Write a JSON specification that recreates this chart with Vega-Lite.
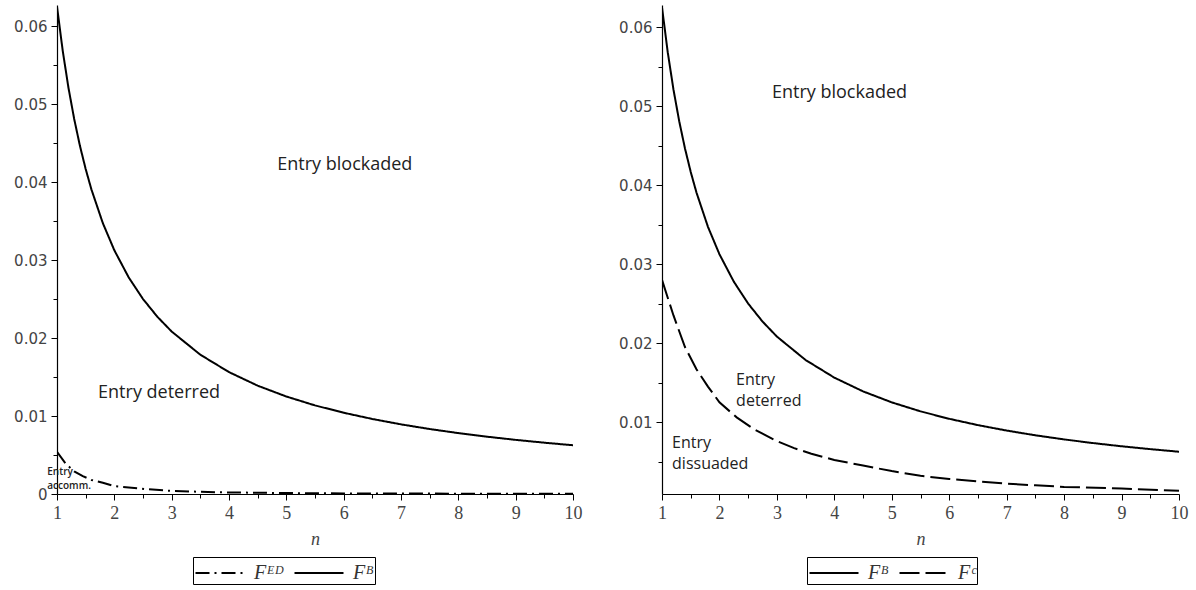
{
  "$schema": "https://vega.github.io/schema/vega-lite/v6.json",
  "background": "white",
  "padding": {"left": 5, "top": 5, "right": 5, "bottom": 0},
  "spacing": 28,
  "resolve": {"scale": {"strokeDash": "independent"}, "legend": {"strokeDash": "independent"}},
  "config": {
    "view": {"stroke": null},
    "axis": {"grid": false, "domainColor": "#000", "domainWidth": 1.2, "tickColor": "#000", "labelColor": "#444"},
    "text": {"font": "Open Sans", "color": "#222"}
  },
  "datasets": {
    "left": [
      {"n": 1, "value": 0.0625, "series": "Fᴮ"},
      {"n": 1.1, "value": 0.05682, "series": "Fᴮ"},
      {"n": 1.2, "value": 0.05208, "series": "Fᴮ"},
      {"n": 1.3, "value": 0.04808, "series": "Fᴮ"},
      {"n": 1.4, "value": 0.04464, "series": "Fᴮ"},
      {"n": 1.5, "value": 0.04167, "series": "Fᴮ"},
      {"n": 1.6, "value": 0.03906, "series": "Fᴮ"},
      {"n": 1.8, "value": 0.03472, "series": "Fᴮ"},
      {"n": 2, "value": 0.03125, "series": "Fᴮ"},
      {"n": 2.25, "value": 0.02778, "series": "Fᴮ"},
      {"n": 2.5, "value": 0.025, "series": "Fᴮ"},
      {"n": 2.75, "value": 0.02273, "series": "Fᴮ"},
      {"n": 3, "value": 0.02083, "series": "Fᴮ"},
      {"n": 3.5, "value": 0.01786, "series": "Fᴮ"},
      {"n": 4, "value": 0.01563, "series": "Fᴮ"},
      {"n": 4.5, "value": 0.01389, "series": "Fᴮ"},
      {"n": 5, "value": 0.0125, "series": "Fᴮ"},
      {"n": 5.5, "value": 0.01136, "series": "Fᴮ"},
      {"n": 6, "value": 0.01042, "series": "Fᴮ"},
      {"n": 6.5, "value": 0.00962, "series": "Fᴮ"},
      {"n": 7, "value": 0.00893, "series": "Fᴮ"},
      {"n": 7.5, "value": 0.00833, "series": "Fᴮ"},
      {"n": 8, "value": 0.00781, "series": "Fᴮ"},
      {"n": 8.5, "value": 0.00735, "series": "Fᴮ"},
      {"n": 9, "value": 0.00694, "series": "Fᴮ"},
      {"n": 9.5, "value": 0.00658, "series": "Fᴮ"},
      {"n": 10, "value": 0.00625, "series": "Fᴮ"},
      {"n": 1, "value": 0.0054, "series": "Fᴱᴰ"},
      {"n": 1.15, "value": 0.0039, "series": "Fᴱᴰ"},
      {"n": 1.3, "value": 0.0029, "series": "Fᴱᴰ"},
      {"n": 1.45, "value": 0.0023, "series": "Fᴱᴰ"},
      {"n": 1.6, "value": 0.0018, "series": "Fᴱᴰ"},
      {"n": 1.8, "value": 0.00145, "series": "Fᴱᴰ"},
      {"n": 2, "value": 0.001, "series": "Fᴱᴰ"},
      {"n": 2.3, "value": 0.0008, "series": "Fᴱᴰ"},
      {"n": 2.6, "value": 0.0006, "series": "Fᴱᴰ"},
      {"n": 3, "value": 0.0004, "series": "Fᴱᴰ"},
      {"n": 3.5, "value": 0.00028, "series": "Fᴱᴰ"},
      {"n": 4, "value": 0.0002, "series": "Fᴱᴰ"},
      {"n": 5, "value": 0.00012, "series": "Fᴱᴰ"},
      {"n": 6, "value": 0.00008, "series": "Fᴱᴰ"},
      {"n": 7, "value": 0.00006, "series": "Fᴱᴰ"},
      {"n": 8, "value": 0.00004, "series": "Fᴱᴰ"},
      {"n": 9, "value": 0.00003, "series": "Fᴱᴰ"},
      {"n": 10, "value": 0.00002, "series": "Fᴱᴰ"}
    ],
    "leftBig": [
      {"n": 6.02, "value": 0.0422, "label": "Entry blockaded"},
      {"n": 2.78, "value": 0.01295, "label": "Entry deterred"}
    ],
    "leftSmall": [
      {"n": 0.83, "value": 0.0028, "label": "Entry"},
      {"n": 0.83, "value": 0.001, "label": "accomm."}
    ],
    "right": [
      {"n": 1, "value": 0.0625, "series": "Fᴮ"},
      {"n": 1.1, "value": 0.05682, "series": "Fᴮ"},
      {"n": 1.2, "value": 0.05208, "series": "Fᴮ"},
      {"n": 1.3, "value": 0.04808, "series": "Fᴮ"},
      {"n": 1.4, "value": 0.04464, "series": "Fᴮ"},
      {"n": 1.5, "value": 0.04167, "series": "Fᴮ"},
      {"n": 1.6, "value": 0.03906, "series": "Fᴮ"},
      {"n": 1.8, "value": 0.03472, "series": "Fᴮ"},
      {"n": 2, "value": 0.03125, "series": "Fᴮ"},
      {"n": 2.25, "value": 0.02778, "series": "Fᴮ"},
      {"n": 2.5, "value": 0.025, "series": "Fᴮ"},
      {"n": 2.75, "value": 0.02273, "series": "Fᴮ"},
      {"n": 3, "value": 0.02083, "series": "Fᴮ"},
      {"n": 3.5, "value": 0.01786, "series": "Fᴮ"},
      {"n": 4, "value": 0.01563, "series": "Fᴮ"},
      {"n": 4.5, "value": 0.01389, "series": "Fᴮ"},
      {"n": 5, "value": 0.0125, "series": "Fᴮ"},
      {"n": 5.5, "value": 0.01136, "series": "Fᴮ"},
      {"n": 6, "value": 0.01042, "series": "Fᴮ"},
      {"n": 6.5, "value": 0.00962, "series": "Fᴮ"},
      {"n": 7, "value": 0.00893, "series": "Fᴮ"},
      {"n": 7.5, "value": 0.00833, "series": "Fᴮ"},
      {"n": 8, "value": 0.00781, "series": "Fᴮ"},
      {"n": 8.5, "value": 0.00735, "series": "Fᴮ"},
      {"n": 9, "value": 0.00694, "series": "Fᴮ"},
      {"n": 9.5, "value": 0.00658, "series": "Fᴮ"},
      {"n": 10, "value": 0.00625, "series": "Fᴮ"},
      {"n": 1, "value": 0.028, "series": "Fᶜ"},
      {"n": 1.2, "value": 0.0235, "series": "Fᶜ"},
      {"n": 1.4, "value": 0.0195, "series": "Fᶜ"},
      {"n": 1.6, "value": 0.0167, "series": "Fᶜ"},
      {"n": 1.8, "value": 0.0145, "series": "Fᶜ"},
      {"n": 2, "value": 0.0125, "series": "Fᶜ"},
      {"n": 2.3, "value": 0.0106, "series": "Fᶜ"},
      {"n": 2.6, "value": 0.0091, "series": "Fᶜ"},
      {"n": 3, "value": 0.0076, "series": "Fᶜ"},
      {"n": 3.3, "value": 0.0067, "series": "Fᶜ"},
      {"n": 3.6, "value": 0.006, "series": "Fᶜ"},
      {"n": 4, "value": 0.0052, "series": "Fᶜ"},
      {"n": 4.5, "value": 0.0045, "series": "Fᶜ"},
      {"n": 5, "value": 0.0038, "series": "Fᶜ"},
      {"n": 5.5, "value": 0.0032, "series": "Fᶜ"},
      {"n": 6, "value": 0.0028, "series": "Fᶜ"},
      {"n": 6.5, "value": 0.0025, "series": "Fᶜ"},
      {"n": 7, "value": 0.0022, "series": "Fᶜ"},
      {"n": 7.5, "value": 0.002, "series": "Fᶜ"},
      {"n": 8, "value": 0.0018, "series": "Fᶜ"},
      {"n": 9, "value": 0.0016, "series": "Fᶜ"},
      {"n": 10, "value": 0.0013, "series": "Fᶜ"}
    ],
    "rightBig": [
      {"n": 4.09, "value": 0.0516, "label": "Entry blockaded"}
    ],
    "rightLeftAligned": [
      {"n": 2.29, "value": 0.0153, "label": "Entry"},
      {"n": 2.29, "value": 0.0127, "label": "deterred"},
      {"n": 1.175, "value": 0.0074, "label": "Entry"},
      {"n": 1.175, "value": 0.0047, "label": "dissuaded"}
    ]
  },
  "hconcat": [
    {
      "width": 516,
      "height": 489,
      "encoding": {
        "x": {"field": "n", "type": "quantitative", "title": "n",
          "scale": {"domain": [1, 10], "nice": false, "zero": false},
          "axis": {"values": [1, 1.5, 2, 2.5, 3, 3.5, 4, 4.5, 5, 5.5, 6, 6.5, 7, 7.5, 8, 8.5, 9, 9.5, 10],
            "labelExpr": "datum.value % 1 == 0 ? format(datum.value, 'd') : ''",
            "tickSize": {"condition": {"test": "datum.value % 1 == 0", "value": 6}, "value": 4},
            "labelFont": "Liberation Serif", "labelFontSize": 18, "labelPadding": 4, "labelFlush": false,
            "titleFont": "Liberation Serif", "titleFontStyle": "italic", "titleFontWeight": "normal", "titleFontSize": 18, "titleColor": "#444", "titlePadding": 8}},
        "y": {"field": "value", "type": "quantitative", "title": null,
          "scale": {"domain": [0, 0.0627], "nice": false, "zero": false},
          "axis": {"values": [0, 0.005, 0.01, 0.015, 0.02, 0.025, 0.03, 0.035, 0.04, 0.045, 0.05, 0.055, 0.06],
            "labelExpr": "round(datum.value * 1000) % 10 == 0 ? (datum.value == 0 ? '0' : format(datum.value, '.2f')) : ''",
            "tickSize": {"condition": {"test": "round(datum.value * 1000) % 10 == 0", "value": 6}, "value": 4},
            "labelFont": "DejaVu Sans", "labelFontSize": 15, "labelPadding": 4, "labelFlush": false,
            "minExtent": 52, "maxExtent": 52}}
      },
      "layer": [
        {
          "data": {"name": "left"},
          "mark": {"type": "line", "color": "#000", "strokeWidth": 2, "clip": true},
          "encoding": {
            "strokeDash": {"field": "series", "type": "nominal",
              "scale": {"domain": ["Fᴱᴰ", "Fᴮ"], "range": [[14, 5, 2, 5], [1, 0]]},
              "legend": {"orient": "none", "legendX": 136, "legendY": 552, "direction": "horizontal", "columns": 2, "title": null,
                "symbolType": "M-1.75,0H1.75", "symbolSize": 784, "symbolOffset": 11, "labelOffset": 19,
                "symbolStrokeWidth": 2, "symbolStrokeColor": "#000", "symbolFillColor": "transparent",
                "strokeColor": "#000", "padding": 1, "cornerRadius": 0, "columnPadding": 6,
                "labelFont": "Liberation Serif", "labelFontStyle": "italic", "labelFontSize": 20, "labelColor": "#333"}}
          }
        },
        {
          "data": {"name": "leftBig"},
          "mark": {"type": "text", "fontSize": 18, "align": "center", "baseline": "middle"},
          "encoding": {"text": {"field": "label"}}
        },
        {
          "data": {"name": "leftSmall"},
          "mark": {"type": "text", "fontSize": 10, "fontWeight": 600, "align": "left", "baseline": "middle"},
          "encoding": {"text": {"field": "label"}}
        }
      ]
    },
    {
      "width": 517,
      "height": 489,
      "encoding": {
        "x": {"field": "n", "type": "quantitative", "title": "n",
          "scale": {"domain": [1, 10], "nice": false, "zero": false},
          "axis": {"values": [1, 1.5, 2, 2.5, 3, 3.5, 4, 4.5, 5, 5.5, 6, 6.5, 7, 7.5, 8, 8.5, 9, 9.5, 10],
            "labelExpr": "datum.value % 1 == 0 ? format(datum.value, 'd') : ''",
            "tickSize": {"condition": {"test": "datum.value % 1 == 0", "value": 6}, "value": 4},
            "labelFont": "Liberation Serif", "labelFontSize": 18, "labelPadding": 4, "labelFlush": false,
            "titleFont": "Liberation Serif", "titleFontStyle": "italic", "titleFontWeight": "normal", "titleFontSize": 18, "titleColor": "#444", "titlePadding": 8}},
        "y": {"field": "value", "type": "quantitative", "title": null,
          "scale": {"domain": [0.0009, 0.0628], "nice": false, "zero": false},
          "axis": {"values": [0.005, 0.01, 0.015, 0.02, 0.025, 0.03, 0.035, 0.04, 0.045, 0.05, 0.055, 0.06],
            "labelExpr": "round(datum.value * 1000) % 10 == 0 ? format(datum.value, '.2f') : ''",
            "tickSize": {"condition": {"test": "round(datum.value * 1000) % 10 == 0", "value": 6}, "value": 4},
            "labelFont": "DejaVu Sans", "labelFontSize": 15, "labelPadding": 4, "labelFlush": false,
            "minExtent": 52, "maxExtent": 52}}
      },
      "layer": [
        {
          "data": {"name": "right"},
          "mark": {"type": "line", "color": "#000", "strokeWidth": 2, "clip": true},
          "encoding": {
            "strokeDash": {"field": "series", "type": "nominal",
              "scale": {"domain": ["Fᴮ", "Fᶜ"], "range": [[1, 0], [20, 6]]},
              "legend": {"orient": "none", "legendX": 145, "legendY": 552, "direction": "horizontal", "columns": 2, "title": null,
                "symbolType": "M-1.75,0H1.75", "symbolSize": 784, "symbolOffset": 11, "labelOffset": 19,
                "symbolStrokeWidth": 2, "symbolStrokeColor": "#000", "symbolFillColor": "transparent",
                "strokeColor": "#000", "padding": 1, "cornerRadius": 0, "columnPadding": 6,
                "labelFont": "Liberation Serif", "labelFontStyle": "italic", "labelFontSize": 20, "labelColor": "#333"}}
          }
        },
        {
          "data": {"name": "rightBig"},
          "mark": {"type": "text", "fontSize": 18, "align": "center", "baseline": "middle"},
          "encoding": {"text": {"field": "label"}}
        },
        {
          "data": {"name": "rightLeftAligned"},
          "mark": {"type": "text", "fontSize": 16, "align": "left", "baseline": "middle"},
          "encoding": {"text": {"field": "label"}}
        }
      ]
    }
  ]
}
